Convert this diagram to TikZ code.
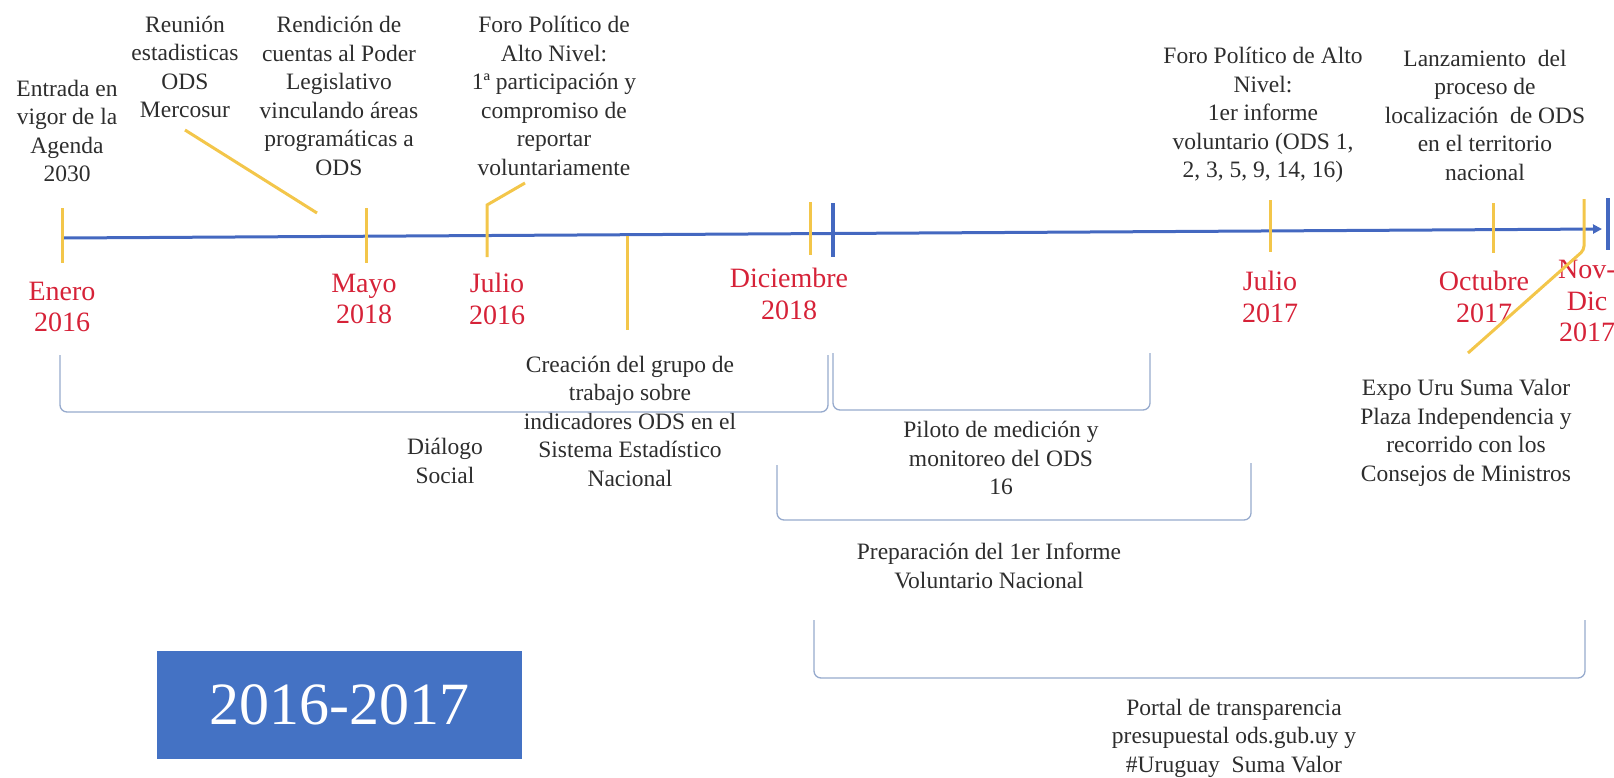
\documentclass[tikz,border=0pt]{standalone}
\usepackage{fontspec}
\setmainfont{Liberation Serif}
\usetikzlibrary{arrows.meta}
\definecolor{tlblue}{RGB}{68,104,192}
\definecolor{tickcol}{RGB}{243,198,74}
\definecolor{datered}{RGB}{214,34,56}
\definecolor{brk}{RGB}{150,170,205}
\definecolor{boxblue}{RGB}{68,114,196}
\definecolor{txt}{RGB}{45,45,45}
\begin{document}
\begin{tikzpicture}[x=1pt,y=-1pt,
  evt/.style={align=center, inner sep=0pt, text=txt, font=\fontsize{23.5}{28.5}\selectfont},
  datelbl/.style={align=center, inner sep=0pt, text=datered, font=\fontsize{28}{31.5}\selectfont},
  ticky/.style={draw=tickcol, line width=3pt},
  bluebar/.style={draw=tlblue, line width=3.5pt},
  bracketline/.style={draw=brk, line width=1.3pt, rounded corners=7pt},
]
\useasboundingbox (0,0) rectangle (1614,777);

% timeline
\coordinate (tlA) at (63,238);
\coordinate (tlB) at (1602,229);
\draw[tlblue, line width=3pt, -{Triangle[length=9pt,width=9pt]}] (tlA) -- (tlB);

% blue bars
\coordinate (bb1t) at (833,203); \coordinate (bb1b) at (833,257);
\coordinate (bb2t) at (1608,198); \coordinate (bb2b) at (1608,250);
\draw[bluebar] (bb1t) -- (bb1b);
\draw[bluebar] (bb2t) -- (bb2b);

% event texts (top)
\node[evt] (entrada) at (67,131) {Entrada en\\vigor de la\\Agenda\\2030};
\node[evt] (reunion) at (185,67) {Reunión\\estadisticas\\ODS\\Mercosur};
\node[evt] (rendicion) at (339,96) {Rendición de\\cuentas al Poder\\Legislativo\\vinculando áreas\\programáticas a\\ODS};
\node[evt] (foro16) at (554,96) {Foro Político de\\Alto Nivel:\\1ª participación y\\compromiso de\\reportar\\voluntariamente};
\node[evt] (foro17) at (1263,115) {Foro Político de Alto\\Nivel:\\1er informe\\voluntario (ODS 1,\\2, 3, 5, 9, 14, 16)};
\node[evt] (lanz) at (1485,115) {Lanzamiento~ del\\proceso de\\localización~ de ODS\\en el territorio\\nacional};

% event texts (bottom)
\node[evt] (creacion) at (630,421) {Creación del grupo de\\trabajo sobre\\indicadores ODS en el\\Sistema Estadístico\\Nacional};
\node[evt] (dialogo) at (445,461) {Diálogo\\Social};
\node[evt] (piloto) at (1001,458) {Piloto de medición y\\monitoreo del ODS\\16};
\node[evt] (prep) at (989,566) {Preparación del 1er Informe\\Voluntario Nacional};
\node[evt] (expo) at (1466,433) {Expo Uru Suma Valor\\Plaza Independencia y\\recorrido con los\\Consejos de Ministros};
\node[evt] (portal) at (1234,738) {Portal de transparencia\\presupuestal ods.gub.uy y\\\#Uruguay~ Suma Valor};

% dates
\node[datelbl] (enero) at (62,307) {Enero\\2016};
\node[datelbl] (mayo) at (364,299) {Mayo\\2018};
\node[datelbl] (julio16) at (497,299) {Julio\\2016};
\node[datelbl] (dic) at (789,294) {Diciembre\\2018};
\node[datelbl] (julio17) at (1270,297) {Julio\\2017};
\node[datelbl] (oct) at (1484,297) {Octubre\\2017};
\node[datelbl] (novdic) at (1587,301) {Nov-\\Dic\\2017};

% yellow ticks and connectors
\coordinate (tEt) at (62,208); \coordinate (tEb) at (62,263);
\draw[ticky] (tEt) -- (tEb);
\coordinate (tMt) at (366,208); \coordinate (tMb) at (366,263);
\draw[ticky] (tMt) -- (tMb);
\coordinate (rA) at (185,130); \coordinate (rB) at (317,213);
\draw[ticky] (rA) -- (rB);
\coordinate (tJb) at (487,257); \coordinate (tJm) at (487,205); \coordinate (tJe) at (525,183);
\draw[ticky] (tJb) -- (tJm) -- (tJe);
\coordinate (tCt) at (627,236); \coordinate (tCb) at (627,330);
\draw[ticky] (tCt) -- (tCb);
\coordinate (tDt) at (810,202); \coordinate (tDb) at (810,255);
\draw[ticky] (tDt) -- (tDb);
\coordinate (tJ2t) at (1270,200); \coordinate (tJ2b) at (1270,252);
\draw[ticky] (tJ2t) -- (tJ2b);
\coordinate (tOt) at (1493,203); \coordinate (tOb) at (1493,253);
\draw[ticky] (tOt) -- (tOb);
\coordinate (tNt) at (1584,199); \coordinate (tNm) at (1584,250); \coordinate (tNe) at (1468,353);
\draw[ticky, rounded corners=4pt] (tNt) -- (tNm) -- (tNe);

% brackets
\draw[bracketline] (60,355) -- (60,412) -- (828,412) -- (828,355);
\draw[bracketline] (833,353) -- (833,410) -- (1150,410) -- (1150,353);
\draw[bracketline] (777,465) -- (777,520) -- (1251,520) -- (1251,463);
\draw[bracketline] (814,620) -- (814,678) -- (1585,678) -- (1585,620);

% year box
\node[fill=boxblue, minimum width=365pt, minimum height=108pt, inner sep=0pt,
      text=white, font=\fontsize{60}{60}\selectfont] (yearbox) at (339.5,705) {2016-2017};
\end{tikzpicture}
\end{document}
